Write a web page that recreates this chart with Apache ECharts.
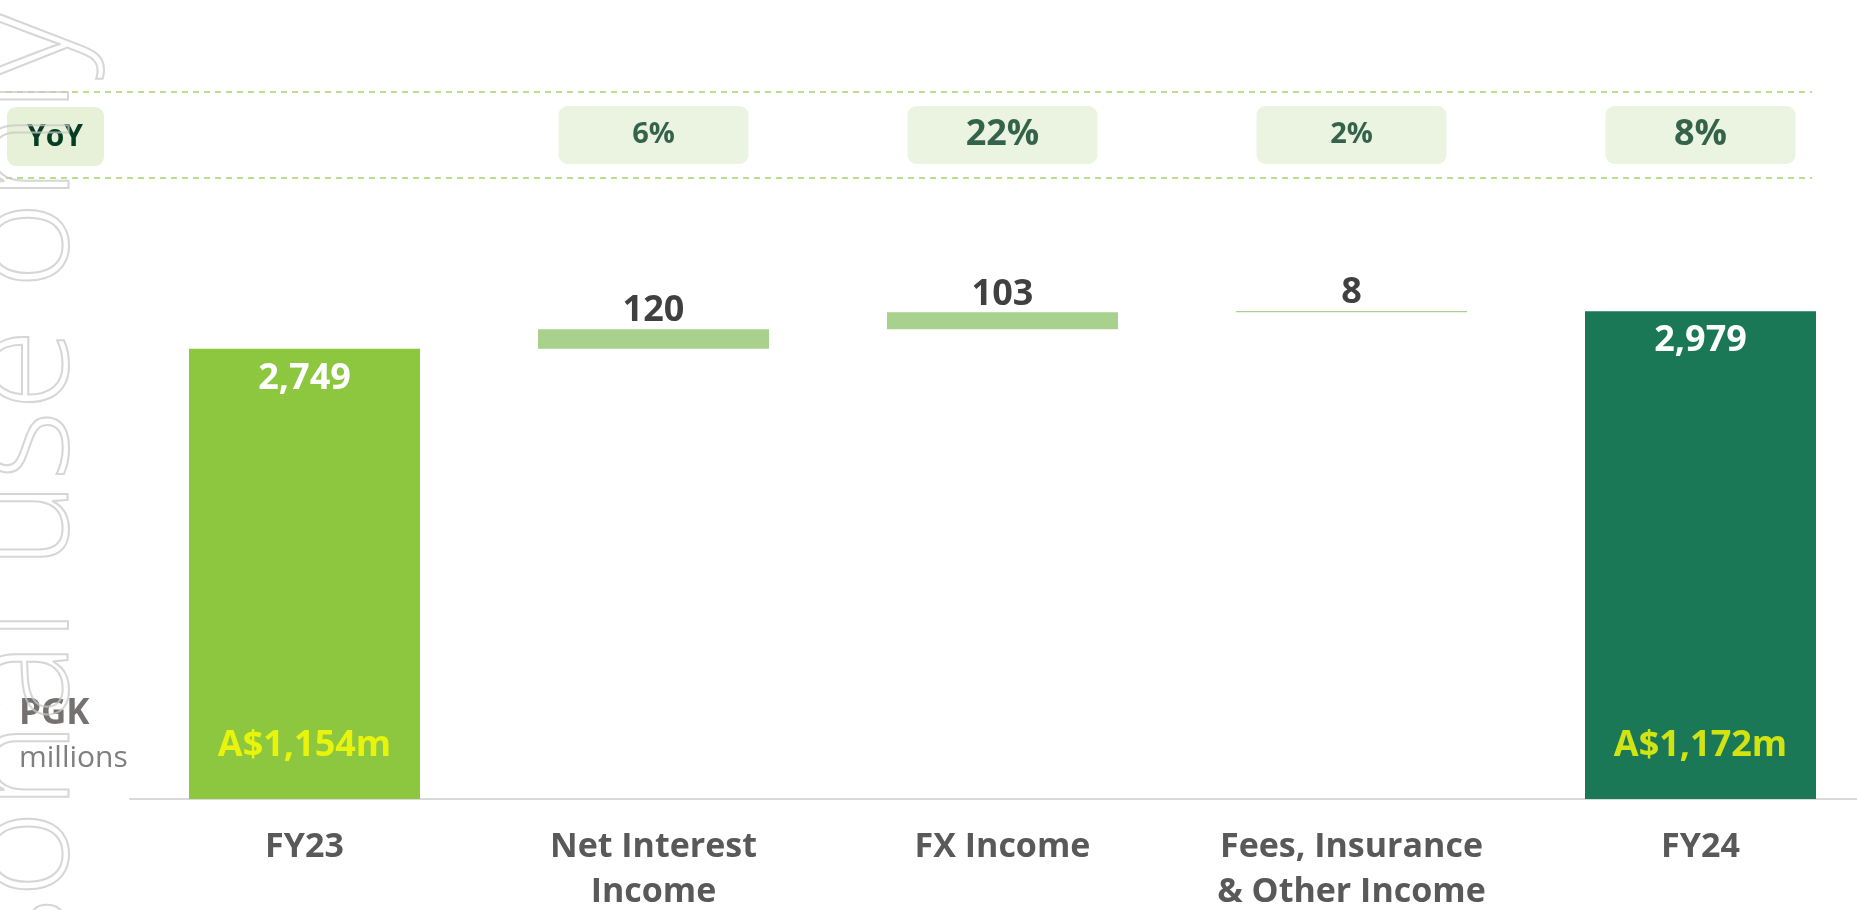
<!DOCTYPE html>
<html>
<head>
<meta charset="utf-8">
<script src="https://cdn.jsdelivr.net/npm/echarts@6/dist/echarts.min.js"></script>
<style>
	html, body { margin: 0; padding: 0; background: #fff; }
	#main { width: 1857px; height: 910px; }
</style>
</head>
<body>
<div id="main"></div>
<script>
/*数据*/
var categories = ['FY23', 'Net Interest\nIncome', 'FX Income', 'Fees, Insurance\n& Other Income', 'FY24'];
var values = [2749, 120, 103, 8, 2979];
var isTotal = [true, false, false, false, true];
var yoyLabels = ['', '6%', '22%', '2%', '8%'];
var audLabels = ['A$1,154m', '', '', '', 'A$1,172m'];

/*样式*/
var yoyFontSizes = [29, 29, 36, 29, 36];
var colorStart = '#8DC63F';
var colorStep = '#A9D18E';
var colorEnd = '#1B7857';
var font = 'Open Sans';

/*瀑布图: 透明底座 + 数值*/
function buildWaterfall() {
	var base = [];
	var bars = [];
	var running = 0;
	for(var i = 0; i < values.length; i++) {
		if(isTotal[i]) {
			base.push(0);
			running = values[i];
			bars.push({
				value: values[i],
				itemStyle: { color: i == 0 ? colorStart : colorEnd },
				label: {
					position: 'insideTop',
					distance: 12,
					color: '#fff'
				}
			});
		} else {
			base.push(running);
			running += values[i];
			bars.push({
				value: values[i],
				itemStyle: { color: colorStep },
				label: {
					position: 'top',
					distance: 0,
					color: '#404040'
				}
			});
		}
	}
	return { base: base, bars: bars };
}

var wf = buildWaterfall();

var yoyData = [];
for(var i = 0; i < yoyLabels.length; i++) {
	if(yoyLabels[i] != '') {
		yoyData.push({
			value: [i, 0.5],
			name: yoyLabels[i],
			label: { fontSize: yoyFontSizes[i] }
		});
	}
}

var audData = [];
for(var k = 0; k < audLabels.length; k++) {
	if(audLabels[k] != '') {
		audData.push({ value: [k, 0], name: audLabels[k] });
	}
}

var chart = echarts.init(document.getElementById('main'));
var option = {
	animation: false,
	backgroundColor: '#fff',
	grid: [
		{ left: 130, width: 1745, top: 144, bottom: 111, outerBoundsMode: 'none' },
		{ left: 130, width: 1745, top: 92, height: 86, outerBoundsMode: 'none' },
		{ left: 6, width: 1806, top: 92, height: 86, outerBoundsMode: 'none' }
	],
	xAxis: [{
		type: 'category',
		gridIndex: 0,
		data: categories,
		axisTick: { show: false },
		axisLine: { lineStyle: { color: '#D9D9D9', width: 2 } },
		axisLabel: {
			interval: 0,
			margin: 26,
			color: '#595959',
			fontSize: 34,
			fontWeight: 'bold',
			fontFamily: font,
			lineHeight: 45
		}
	}, {
		type: 'category',
		gridIndex: 1,
		data: categories,
		show: false
	}, {
		type: 'value',
		gridIndex: 2,
		min: 0,
		max: 1,
		show: false
	}],
	yAxis: [{
		type: 'value',
		gridIndex: 0,
		min: 0,
		max: 4000,
		show: false
	}, {
		type: 'value',
		gridIndex: 1,
		min: 0,
		max: 1,
		show: false
	}, {
		type: 'value',
		gridIndex: 2,
		min: 0,
		max: 1,
		interval: 1,
		axisLine: { show: false },
		axisTick: { show: false },
		axisLabel: { show: false },
		splitLine: {
			show: true,
			lineStyle: { color: '#A6D36B', width: 1.5, type: [6, 5] }
		}
	}],
	series: [{
		name: 'base',
		type: 'bar',
		stack: 'wf',
		barWidth: 231,
		itemStyle: { color: 'transparent' },
		emphasis: { disabled: true },
		data: wf.base
	}, {
		name: 'value',
		type: 'bar',
		stack: 'wf',
		barWidth: 231,
		label: {
			show: true,
			fontSize: 36,
			fontWeight: 'bold',
			fontFamily: font,
			formatter: function(p) {
				return p.value.toLocaleString('en-US');
			}
		},
		data: wf.bars
	}, {
		name: 'aud',
		type: 'scatter',
		symbolSize: 1,
		itemStyle: { color: 'transparent' },
		label: {
			show: true,
			position: 'top',
			distance: 35,
			color: '#FFFF00',
			fontSize: 36,
			fontWeight: 'bold',
			fontFamily: font,
			formatter: '{b}'
		},
		data: audData,
		z: 5
	}, {
		name: 'yoy',
		type: 'scatter',
		xAxisIndex: 1,
		yAxisIndex: 1,
		symbolSize: 1,
		itemStyle: { color: 'transparent' },
		label: {
			show: true,
			position: 'inside',
			formatter: '{b}',
			color: '#063D25',
			fontWeight: 'bold',
			fontFamily: font,
			backgroundColor: '#E6F1D8',
			borderRadius: 9,
			width: 190,
			height: 58,
			lineHeight: 58,
			align: 'center',
			verticalAlign: 'middle'
		},
		data: yoyData
	}],
	graphic: [{
		type: 'group',
		left: 7,
		top: 107,
		children: [{
			type: 'rect',
			shape: { x: 0, y: 0, width: 97, height: 59, r: 9 },
			style: { fill: '#E6F1D8' }
		}, {
			type: 'text',
			x: 48,
			y: 30,
			style: {
				text: 'YoY',
				fill: '#063D25',
				font: 'bold 30px "Open Sans"',
				align: 'center',
				verticalAlign: 'middle'
			}
		}]
	}, {
		type: 'text',
		left: 19,
		top: 697,
		style: {
			text: 'PGK',
			fill: '#767171',
			font: 'bold 35px "Open Sans"'
		}
	}, {
		type: 'text',
		left: 19,
		top: 743,
		style: {
			text: 'millions',
			fill: '#7F7F7F',
			font: '30px "Open Sans"'
		}
	}, {
		/*水印*/
		type: 'text',
		x: 25,
		y: 10,
		rotation: Math.PI / 2,
		z: 100,
		silent: true,
		style: {
			text: 'For personal use only',
			fill: 'rgba(0,0,0,0)',
			stroke: 'rgba(200,200,200,0.75)',
			lineWidth: 2,
			font: '300 150px "Open Sans"',
			align: 'right',
			verticalAlign: 'middle'
		}
	}]
};
chart.setOption(option);
</script>
</body>
</html>
